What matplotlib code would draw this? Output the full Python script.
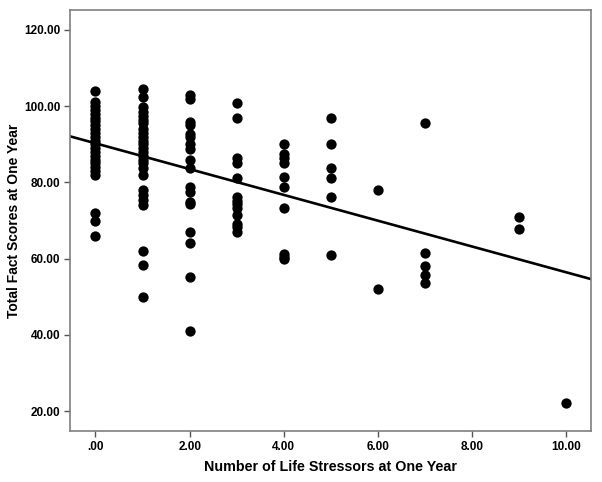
import matplotlib
matplotlib.use("Agg")
import matplotlib.pyplot as plt
from matplotlib.ticker import FuncFormatter

# stressor count per column and the fact scores
stress_0 = [104, 101, 100, 99, 98, 97, 96, 95, 94, 93, 92, 91, 90, 89, 88, 87,
            86, 85, 84, 83, 82, 72, 70, 66]
stress_1 = [104.5, 102.4, 99.7, 98.5, 97.5, 96.5, 95.5, 94, 93, 92, 91, 90, 89,
            88, 87, 86, 85, 83.7, 82, 78, 76.7, 75.4, 74.1, 62.1, 58.3, 49.9]
stress_2 = [102.9, 102.0, 95.9, 95.0, 92.8, 91.9, 90.2, 88.9, 86.0, 83.9, 78.8,
            77.5, 74.9, 74.3, 67.1, 64.0, 55.3, 41.0]
stress_3 = [100.9, 96.9, 86.5, 85.0, 81.2, 76.1, 75.2, 74.3, 73.4, 71.5, 69.2,
            68.2, 67.0]
stress_4 = [90.0, 87.4, 86.3, 85.0, 81.5, 78.8, 73.4, 61.2, 60.4, 59.8]
stress_5 = [96.8, 90.0, 83.9, 81.2, 76.1, 61.0]
stress_6 = [78.0, 52.0]
stress_7 = [95.7, 61.4, 58.1, 55.8, 53.7]
stress_9 = [71.0, 67.9]
stress_10 = [22.2]

columns = {0: stress_0, 1: stress_1, 2: stress_2, 3: stress_3, 4: stress_4,
           5: stress_5, 6: stress_6, 7: stress_7, 9: stress_9, 10: stress_10}

# fit line
fit_intercept = 90.27
fit_slope = -3.386

x_ticks = [0, 2, 4, 6, 8, 10]
y_ticks = [20, 40, 60, 80, 100, 120]

xs, ys = [], []
for k, vals in columns.items():
    xs += [k] * len(vals)
    ys += vals

plt.rcParams['font.family'] = ['Liberation Sans', 'DejaVu Sans']

fig = plt.figure(figsize=(6.02, 4.82), dpi=100)
ax = fig.add_axes([0.1163, 0.1058, 0.8654, 0.8732])

ax.scatter(xs, ys, s=55, color="black", zorder=3, linewidths=0)

xlim = (-0.54, 10.52)
ax.plot(xlim, [fit_intercept + fit_slope * x for x in xlim],
        color="black", lw=1.9, zorder=2)

ax.set_xlim(*xlim)
ax.set_ylim(14.8, 125.2)


def spss_fmt(v, pos):
    s = f"{v:.2f}"
    return s[1:] if s.startswith("0.") else s


ax.set_xticks(x_ticks)
ax.set_yticks(y_ticks)
ax.xaxis.set_major_formatter(FuncFormatter(spss_fmt))
ax.yaxis.set_major_formatter(FuncFormatter(spss_fmt))

for sp in ax.spines.values():
    sp.set_color("#7f7f7f")
    sp.set_linewidth(1.2)
ax.tick_params(direction="out", length=4, width=1.0, color="#555555",
               labelsize=8.5, pad=3)
for lab in ax.get_xticklabels() + ax.get_yticklabels():
    lab.set_fontweight("bold")

ax.set_xlabel("Number of Life Stressors at One Year", fontsize=10.3,
              fontweight="bold")
ax.set_ylabel("Total Fact Scores at One Year", fontsize=10.0,
              fontweight="bold")
# put the axis titles where the picture has them
ax.xaxis.set_label_coords(0.5, -0.069)
ax.yaxis.set_label_coords(-0.094, 0.5)

fig.savefig("out.png", dpi=100)
